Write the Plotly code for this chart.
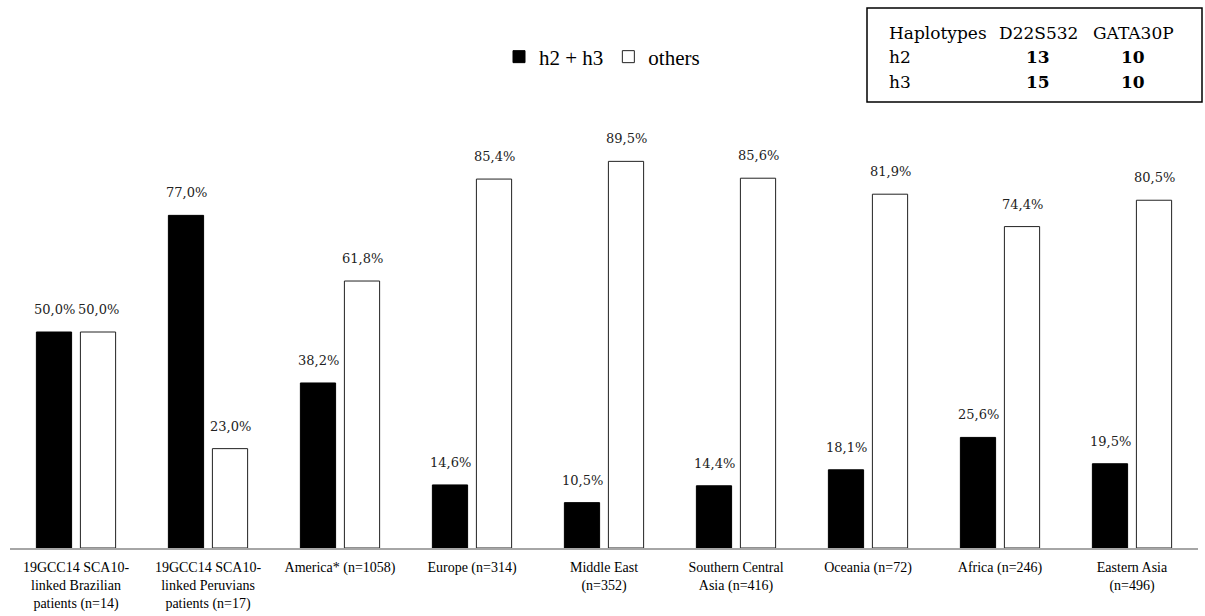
import plotly.graph_objects as go

# Haplotype frequencies (%) by population group
categories = [
    "19GCC14 SCA10-<br>linked Brazilian<br>patients (n=14)",
    "19GCC14 SCA10-<br>linked Peruvians<br>patients (n=17)",
    "America* (n=1058)",
    "Europe (n=314)",
    "Middle East<br>(n=352)",
    "Southern Central<br>Asia (n=416)",
    "Oceania (n=72)",
    "Africa (n=246)",
    "Eastern Asia<br>(n=496)",
]
h2_h3 = [50.0, 77.0, 38.2, 14.6, 10.5, 14.4, 18.1, 25.6, 19.5]
others = [50.0, 23.0, 61.8, 85.4, 89.5, 85.6, 81.9, 74.4, 80.5]

# Inset table of haplotype alleles
table_header = ["Haplotypes", "D22S532", "GATA30P"]
table_rows = [["h2", "13", "10"], ["h3", "15", "10"]]

W, H = 1205, 616
ML, MR, MT, MB = 10, 7, 116, 68
PW, PH = W - ML - MR, H - MT - MB

TIMES = "Liberation Serif, Times New Roman, serif"
CAMBRIA = "DejaVu Serif, serif"


def px_x(x):
    return (x - ML) / PW


def px_y(y):
    return (H - MB - y) / PH


def pct(v):
    return f"{v:.1f}".replace(".", ",") + "%"


fig = go.Figure()
fig.add_trace(go.Bar(
    x=categories, y=h2_h3, name="h2 + h3",
    marker=dict(color="black", line=dict(color="black", width=1)),
))
fig.add_trace(go.Bar(
    x=categories, y=others, name="others",
    marker=dict(color="white", line=dict(color="#222222", width=1)),
))

label_font = dict(family=CAMBRIA, size=13, color="#222222")
annotations = []
for cat, a, b in zip(categories, h2_h3, others):
    for val, shift in ((a, -22), (b, 22)):
        annotations.append(dict(
            x=cat, y=val, xref="x", yref="y", text=pct(val),
            showarrow=False, xshift=shift, yanchor="bottom", yshift=13,
            font=label_font,
        ))

# inset table text
tfont = dict(family=CAMBRIA, size=17, color="black")
col_x = [887, 1038, 1133]
row_y = [33, 57, 82]
annotations.append(dict(x=px_x(col_x[0]), y=px_y(row_y[0]), xref="paper", yref="paper",
                        text=table_header[0], showarrow=False, xanchor="left",
                        yanchor="middle", font=tfont))
for j in (1, 2):
    annotations.append(dict(x=px_x(col_x[j]), y=px_y(row_y[0]), xref="paper", yref="paper",
                            text=table_header[j], showarrow=False, xanchor="center",
                            yanchor="middle", font=tfont))
for i, row in enumerate(table_rows):
    yy = px_y(row_y[i + 1])
    annotations.append(dict(x=px_x(col_x[0]), y=yy, xref="paper", yref="paper",
                            text=row[0], showarrow=False, xanchor="left",
                            yanchor="middle", font=tfont))
    for j in (1, 2):
        annotations.append(dict(x=px_x(col_x[j]), y=yy, xref="paper", yref="paper",
                                text=f"<b>{row[j]}</b>", showarrow=False, xanchor="center",
                                yanchor="middle", font=tfont))

fig.add_shape(type="rect", xref="paper", yref="paper",
              x0=px_x(867), x1=px_x(1202), y0=px_y(102), y1=px_y(8),
              line=dict(color="black", width=1.5), fillcolor="white", layer="below")

fig.update_layout(
    width=W, height=H,
    margin=dict(l=ML, r=MR, t=MT, b=MB),
    paper_bgcolor="white", plot_bgcolor="white",
    barmode="group", bargap=0.333, bargroupgap=0.2,
    showlegend=True,
    legend=dict(orientation="h", x=px_x(499), y=px_y(57), xanchor="left", yanchor="middle",
                font=dict(family=TIMES, size=21, color="black"),
                itemwidth=30, bgcolor="rgba(0,0,0,0)"),
    annotations=annotations,
    xaxis=dict(showline=True, linecolor="#A6A6A6", linewidth=1.5, ticks="",
               showgrid=False, ticklabelstandoff=5, automargin=False,
               tickfont=dict(family=TIMES, size=14, color="black")),
    yaxis=dict(range=[0, 100], visible=False, showgrid=False, zeroline=False,
               automargin=False),
)

fig.write_html("out.html")
